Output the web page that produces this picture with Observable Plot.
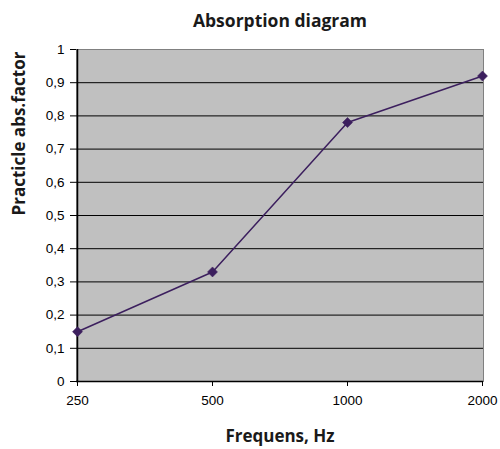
<!DOCTYPE html>
<html><head><meta charset="utf-8">
<script src="https://cdn.jsdelivr.net/npm/d3@7"></script>
<script src="https://cdn.jsdelivr.net/npm/@observablehq/plot@0.6"></script>
<style>body{margin:0;background:#fff}</style>
</head><body><div id="chart"></div>
<script>
const frequencies = ["250", "500", "1000", "2000"];
const absorption = [0.15, 0.33, 0.78, 0.92];
const yTicks = [0, 0.1, 0.2, 0.3, 0.4, 0.5, 0.6, 0.7, 0.8, 0.9, 1];
const gridTicks = [0.1, 0.2, 0.3, 0.4, 0.5, 0.6, 0.7, 0.8, 0.9];
const title = "Absorption diagram";
const xLabel = "Frequens, Hz";
const yLabel = "Practicle abs.factor";

const data = frequencies.map((f, i) => ({f, v: absorption[i]}));
const fmt = d => String(+d.toFixed(1)).replace(".", ",");
const lineColor = "#3c1f5e";
const labelFont = "'Open Sans', 'Noto Sans', sans-serif";

const chart = Plot.plot({
  width: 500, height: 449,
  marginLeft: 76, marginRight: 17, marginTop: 49, marginBottom: 68,
  style: {fontFamily: "'Liberation Sans', Arial, sans-serif", fontSize: "13.5px", color: "#000", background: "#fff"},
  x: {type: "point", domain: frequencies, padding: 0},
  y: {domain: [0, 1]},
  marks: [
    Plot.frame({fill: "#c0c0c0", stroke: "#808080"}),
    Plot.ruleY(gridTicks, {stroke: "#000", strokeWidth: 1}),
    Plot.ruleY([0], {stroke: "#000", strokeWidth: 1.5}),
    Plot.ruleX([frequencies[0]], {stroke: "#000", strokeWidth: 1.5}),
    Plot.axisY({ticks: yTicks, tickFormat: fmt, tickSize: 6, tickPadding: 6, label: null, fontSize: 13.5}),
    Plot.axisX({ticks: frequencies, tickSize: 5, tickPadding: 9, label: null, fontSize: 13.5}),
    Plot.line(data, {x: "f", y: "v", stroke: lineColor, strokeWidth: 1.5}),
    Plot.dot(data, {x: "f", y: "v", symbol: "square", rotate: 45, r: 4, fill: lineColor, stroke: lineColor, strokeWidth: 0.5}),
    Plot.text([title], {frameAnchor: "top", lineAnchor: "middle", dy: -28, fontWeight: "bold", fontSize: 17.5, fontFamily: labelFont, fill: "#1a1a1a"}),
    Plot.text([xLabel], {frameAnchor: "bottom", lineAnchor: "middle", dy: 55, fontWeight: "bold", fontSize: 17, fontFamily: labelFont, fill: "#1a1a1a"}),
    Plot.text([yLabel], {frameAnchor: "left", lineAnchor: "middle", dx: -57, rotate: -90, fontWeight: "bold", fontSize: 17, fontFamily: labelFont, fill: "#1a1a1a"})
  ]
});
document.getElementById("chart").append(chart);
</script>
</body></html>
